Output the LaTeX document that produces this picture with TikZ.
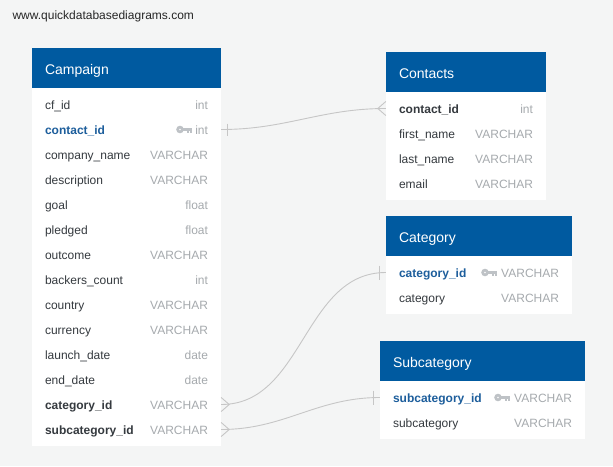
\documentclass[tikz,border=0pt]{standalone}
\usepackage{fontspec}
\setmainfont{Liberation Sans}
\usetikzlibrary{positioning}

\definecolor{canvas}{HTML}{F4F5F5}
\definecolor{hdrblue}{HTML}{005AA0}
\definecolor{namegray}{HTML}{353A3F}
\definecolor{typegray}{HTML}{A6AAAE}
\definecolor{keyblue}{HTML}{1D5E9C}
\definecolor{linkgray}{HTML}{C6C6C6}
\definecolor{keygray}{HTML}{BEC2C6}

\newcommand{\ty}[1]{\hfill\textcolor{typegray}{\mdseries #1}}

\begin{document}
\begin{tikzpicture}[x=1pt, y=-1pt, node distance=25pt,
    hdr/.style={fill=hdrblue, text=white, font=\fontsize{14}{16}\selectfont, text width=#1, align=left,
                minimum height=40pt, inner xsep=13pt, inner ysep=0pt, text height=13pt, text depth=1pt},
    row/.style={text=namegray, font=\fontsize{12}{14}\selectfont, text width=#1, align=left,
                minimum height=25pt, inner xsep=13pt, inner ysep=0pt, text height=11pt, text depth=1pt},
    fk/.style={text=keyblue, font=\fontsize{12}{14}\selectfont\bfseries},
    pk/.style={font=\fontsize{12}{14}\selectfont\bfseries},
    link/.style={draw=linkgray, line width=0.9pt},
    keyicon/.pic={
      \fill[keygray, even odd rule] (-11.5,0) circle (3.8) (-11.5,0) circle (1.1);
      \fill[keygray] (-9,-1.4) rectangle (0,1.4);
      \fill[keygray] (-4.4,1.4) rectangle (-2.7,3.8);
      \fill[keygray] (-1.7,1.4) rectangle (0,3.8);
    }]
  \useasboundingbox[fill=canvas] (0,0) rectangle (613,466);
  \node[anchor=west, text=black!85, font=\fontsize{12}{14}\selectfont] (site) at (9,16) {www.quickdatabasediagrams.com};

  % table bodies
  \fill[white] (32,88) rectangle (221,446);
  \fill[white] (386,92) rectangle (546,200);
  \fill[white] (386,256) rectangle (572,314);
  \fill[white] (380,381) rectangle (585,439);

  % Campaign
  \node[hdr=163pt](campaign) at (126.5,68) {Campaign};
  \node[row=163pt](cfid)        [below of = campaign, node distance=36.5pt] {cf\_id\ty{int}};
  \node[row=163pt, fk](campcontact) [below of = cfid]      {contact\_id\ty{int}};
  \node[row=163pt](company)     [below of = campcontact] {company\_name\ty{VARCHAR}};
  \node[row=163pt](descr)       [below of = company]     {description\ty{VARCHAR}};
  \node[row=163pt](goal)        [below of = descr]       {goal\ty{float}};
  \node[row=163pt](pledged)     [below of = goal]        {pledged\ty{float}};
  \node[row=163pt](outcome)     [below of = pledged]     {outcome\ty{VARCHAR}};
  \node[row=163pt](backers)     [below of = outcome]     {backers\_count\ty{int}};
  \node[row=163pt](country)     [below of = backers]     {country\ty{VARCHAR}};
  \node[row=163pt](currency)    [below of = country]     {currency\ty{VARCHAR}};
  \node[row=163pt](launch)      [below of = currency]    {launch\_date\ty{date}};
  \node[row=163pt](enddate)     [below of = launch]      {end\_date\ty{date}};
  \node[row=163pt, pk](campcat)    [below of = enddate]  {category\_id\ty{VARCHAR}};
  \node[row=163pt, pk](campsubcat) [below of = campcat]  {subcategory\_id\ty{VARCHAR}};

  % Contacts
  \node[hdr=134pt](contacts) at (466,72) {Contacts};
  \node[row=134pt, pk](contactid) [below of = contacts, node distance=36.5pt] {contact\_id\ty{int}};
  \node[row=134pt](firstname) [below of = contactid] {first\_name\ty{VARCHAR}};
  \node[row=134pt](lastname)  [below of = firstname] {last\_name\ty{VARCHAR}};
  \node[row=134pt](email)     [below of = lastname]  {email\ty{VARCHAR}};

  % Category
  \node[hdr=160pt](category) at (479,236) {Category};
  \node[row=160pt, fk](catid) [below of = category, node distance=36.5pt] {category\_id\ty{VARCHAR}};
  \node[row=160pt](catname)   [below of = catid] {category\ty{VARCHAR}};

  % Subcategory
  \node[hdr=179pt](subcategory) at (482.5,361) {Subcategory};
  \node[row=179pt, fk](subcatid) [below of = subcategory, node distance=36.5pt] {subcategory\_id\ty{VARCHAR}};
  \node[row=179pt](subcatname)   [below of = subcatid] {subcategory\ty{VARCHAR}};

  % keys
  \pic at ([xshift=-29.7pt]campcontact.east) {keyicon};
  \pic at ([xshift=-75.7pt]catid.east) {keyicon};
  \pic at ([xshift=-75.7pt]subcatid.east) {keyicon};

  % relations
  \draw[link] (campcontact.east) to[out=0, in=180] (contactid.west);
  \draw[link] ([xshift=6pt, yshift=6pt]campcontact.east) -- ([xshift=6pt, yshift=-6pt]campcontact.east);
  \draw[link] ([yshift=7pt]contactid.west) -- ([xshift=-8pt]contactid.west) -- ([yshift=-7pt]contactid.west);

  \draw[link] (campcat.east) to[out=0, in=180] (catid.west);
  \draw[link] ([yshift=7pt]campcat.east) -- ([xshift=8pt]campcat.east) -- ([yshift=-7pt]campcat.east);
  \draw[link] ([xshift=-6pt, yshift=7pt]catid.west) -- ([xshift=-6pt, yshift=-7pt]catid.west);

  \draw[link] (campsubcat.east) to[out=0, in=180] (subcatid.west);
  \draw[link] ([yshift=7pt]campsubcat.east) -- ([xshift=8pt]campsubcat.east) -- ([yshift=-7pt]campsubcat.east);
  \draw[link] ([xshift=-6pt, yshift=7pt]subcatid.west) -- ([xshift=-6pt, yshift=-7pt]subcatid.west);
\end{tikzpicture}
\end{document}
